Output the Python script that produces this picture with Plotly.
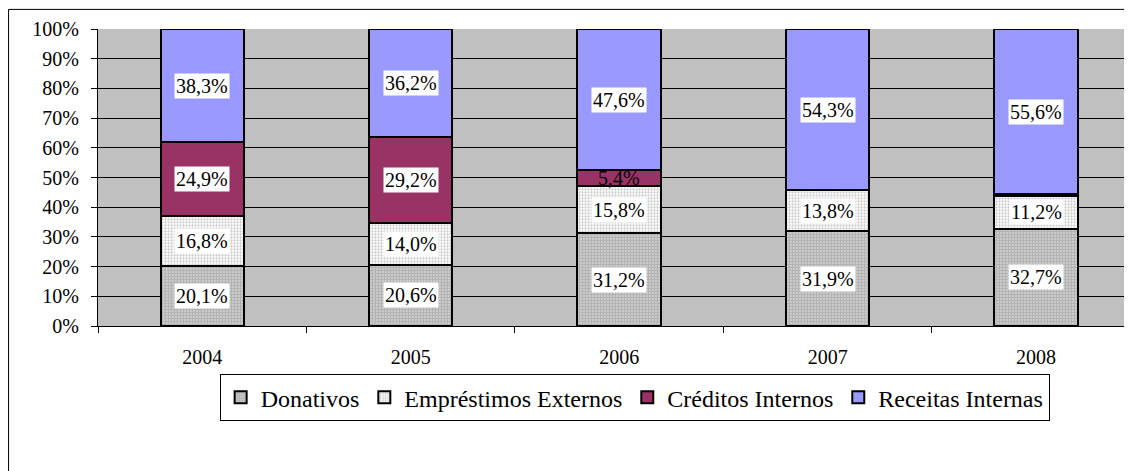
import plotly.graph_objects as go

years = ["2004", "2005", "2006", "2007", "2008"]
donativos = [20.1, 20.6, 31.2, 31.9, 32.7]
emprestimos = [16.8, 14.0, 15.8, 13.8, 11.2]
creditos = [24.9, 29.2, 5.4, 0.0, 0.5]
receitas = [38.3, 36.2, 47.6, 54.3, 55.6]
series_names = ["Donativos", "Empréstimos Externos", "Créditos Internos", "Receitas Internas"]
y_ticks = [0, 10, 20, 30, 40, 50, 60, 70, 80, 90, 100]
y_tick_labels = [f"{v}%" for v in y_ticks]

FONT = "Liberation Serif, Times New Roman, serif"
series = [donativos, emprestimos, creditos, receitas]
styles = [
    dict(color="#FFFFFF", pattern=dict(shape=".", size=3, solidity=0.8, fgcolor="#686868", bgcolor="#FFFFFF", fillmode="overlay")),
    dict(color="#FFFFFF", pattern=dict(shape=".", size=3, solidity=0.45, fgcolor="#999999", bgcolor="#FFFFFF", fillmode="overlay")),
    dict(color="#993366"),
    dict(color="#9999FF"),
]

fig = go.Figure()
for name, vals, st in zip(series_names, series, styles):
    fig.add_trace(go.Bar(
        x=years, y=vals, name=name, width=0.4,
        marker=dict(line=dict(color="#000000", width=2), **st),
    ))

# data labels
annotations = []
for i, yr in enumerate(years):
    base = 0
    for k, vals in enumerate(series):
        v = vals[i]
        if v >= 1:
            label = f"{v:.1f}%".replace(".", ",")
            small = v < 8
            ann = dict(
                x=i, y=base + v / 2, xref="x", yref="y", text=label, showarrow=False,
                font=dict(family=FONT, size=20, color="#000000"),
                borderpad=1,
            )
            if not small:
                ann["bgcolor"] = "#FFFFFF"
            annotations.append(ann)
        base += v

fig.update_layout(
    barmode="stack",
    width=1124, height=463,
    margin=dict(l=90, r=0, t=21, b=145),
    paper_bgcolor="#FFFFFF",
    plot_bgcolor="#C0C0C0",
    font=dict(family=FONT, size=20, color="#000000"),
    annotations=annotations,
    showlegend=True,
    legend=dict(
        orientation="h", x=0.519, xanchor="center", y=-0.162, yanchor="top",
        bordercolor="#000000", borderwidth=1, bgcolor="#FFFFFF",
        font=dict(family=FONT, size=24), traceorder="normal",
    ),
    shapes=[
        dict(type="rect", xref="paper", yref="paper", x0=-0.0865, x1=1.2, y0=-0.7, y1=1.066,
             line=dict(color="#000000", width=1), fillcolor="rgba(0,0,0,0)", layer="below"),
    ],
)
fig.update_xaxes(
    type="category",
    range=[-0.5, 4.46], showgrid=False, showline=True, linecolor="#000000", linewidth=1,
    ticks="outside", tickson="boundaries", ticklen=6, tickcolor="#000000",
    ticklabelstandoff=13, tickfont=dict(family=FONT, size=20),
)
fig.update_yaxes(
    range=[0, 100], tickvals=y_ticks, ticktext=y_tick_labels,
    showgrid=True, gridcolor="#000000", gridwidth=1,
    showline=True, linecolor="#000000", linewidth=1,
    ticks="outside", ticklen=6, tickcolor="#000000", ticklabelstandoff=8,
    tickfont=dict(family=FONT, size=20), zeroline=False,
)

fig.write_html("out.html")
